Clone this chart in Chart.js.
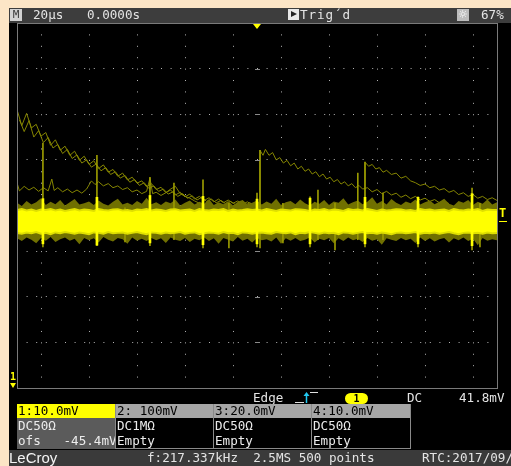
<!DOCTYPE html>
<html><head><meta charset="utf-8">
<script src="https://cdn.jsdelivr.net/npm/chart.js@4.4.0/dist/chart.umd.min.js"></script>
<style>
html,body{margin:0;padding:0;}
body{width:511px;height:466px;background:#fce5c6;position:relative;overflow:hidden;font-family:"DejaVu Sans Mono",monospace;font-size:12.6px;}
.bg{position:absolute;z-index:0;}
.t{position:absolute;z-index:3;color:#e4e4e4;white-space:pre;}
#c{position:absolute;left:0;top:0;z-index:1;}
.ch{position:absolute;z-index:3;top:404px;height:45px;box-sizing:border-box;border:1px solid #8a8a8a;border-top:none;background:#000;}
.ch .h{height:14px;line-height:14px;color:#000;background:#a6a6a6;padding-left:1px;white-space:pre;}
.ch .r{height:15px;line-height:15px;color:#ececec;padding-left:1px;white-space:pre;}
</style></head>
<body>
<div class="bg" style="left:9px;top:8px;width:502px;height:15px;background:#3d3d3d;"></div>
<div class="bg" style="left:9px;top:23px;width:502px;height:427px;background:#000;"></div>
<div class="bg" style="left:9px;top:450px;width:502px;height:16px;background:#3a3a3a;"></div>

<canvas id="c" width="511" height="466"></canvas>

<!-- top status bar -->
<div class="t" style="left:10px;top:9px;width:12px;height:12px;background:#d2d2d2;color:#3a3a3a;font-size:11px;line-height:12px;text-align:center;">M</div>
<div class="t" style="left:33px;top:7px;line-height:15px;">20µs</div>
<div class="t" style="left:87px;top:7px;line-height:15px;">0.0000s</div>
<div class="t" style="left:288px;top:9px;width:11px;height:11px;background:#e8e8e8;"></div>
<div class="t" style="left:291px;top:11px;width:0;height:0;border-top:3.5px solid transparent;border-bottom:3.5px solid transparent;border-left:6px solid #222;"></div>
<div class="t" style="left:300px;top:7px;line-height:15px;letter-spacing:0.9px;">Trig´d</div>
<div class="t" style="left:457px;top:9px;width:12px;height:12px;background:#bdbdbd;color:#fff;font-family:'DejaVu Sans';font-size:11px;line-height:12px;text-align:center;">☼</div>
<div class="t" style="left:481px;top:7px;line-height:15px;">67%</div>

<!-- markers -->
<div class="t" style="left:253px;top:24px;width:0;height:0;border-left:4px solid transparent;border-right:4px solid transparent;border-top:5px solid #ffff00;"></div>
<div class="t" style="left:499px;top:206px;color:#ffff00;font-weight:bold;font-size:12px;line-height:14px;">T</div>
<div class="t" style="left:499px;top:221px;width:8px;height:1px;background:#ffff00;"></div>
<div class="t" style="left:10px;top:371px;color:#ffff00;font-weight:bold;font-size:10px;line-height:11px;">1</div>
<div class="t" style="left:10px;top:383px;width:0;height:0;border-left:3px solid transparent;border-right:3px solid transparent;border-top:5px solid #ffff00;"></div>

<!-- trigger strip -->
<div class="t" style="left:253px;top:391px;line-height:14px;">Edge</div>
<svg class="t" style="left:294px;top:391px;" width="26" height="13">
  <polyline points="1,11.5 10,11.5" stroke="#e0e0e0" stroke-width="1" fill="none"/>
  <polyline points="16,1.5 24,1.5" stroke="#e0e0e0" stroke-width="1" fill="none"/>
  <line x1="12.5" y1="12" x2="12.5" y2="4" stroke="#22c8f0" stroke-width="1.5"/>
  <polygon points="9.5,5 15.5,5 12.5,1" fill="#22c8f0"/>
</svg>
<div class="t" style="left:345px;top:393px;width:23px;height:11px;background:#ffff00;border-radius:6px;color:#000;font-weight:bold;font-size:10px;line-height:11px;text-align:center;">1</div>
<div class="t" style="left:407px;top:391px;line-height:14px;">DC</div>
<div class="t" style="left:459px;top:391px;line-height:14px;">41.8mV</div>

<!-- channel boxes -->
<div class="ch" style="left:17px;width:98px;border:none;background:#5b5b5b;">
  <div class="h" style="background:#ffff00;">1:10.0mV</div>
  <div class="r">DC50Ω</div>
  <div class="r">ofs   -45.4mV</div>
</div>
<div class="ch" style="left:115px;width:99px;">
  <div class="h">2: 100mV</div>
  <div class="r">DC1MΩ</div>
  <div class="r">Empty</div>
</div>
<div class="ch" style="left:213px;width:99px;">
  <div class="h">3:20.0mV</div>
  <div class="r">DC50Ω</div>
  <div class="r">Empty</div>
</div>
<div class="ch" style="left:311px;width:100px;">
  <div class="h">4:10.0mV</div>
  <div class="r">DC50Ω</div>
  <div class="r">Empty</div>
</div>

<!-- footer -->
<div class="t" style="left:9px;top:450px;line-height:16px;font-family:'Liberation Sans',Arial,sans-serif;font-size:15px;color:#f4f4f4;">LeCroy</div>
<div class="t" style="left:147px;top:450px;line-height:16px;">f:217.337kHz  2.5MS 500 points</div>
<div class="t" style="left:422px;top:450px;line-height:16px;">RTC:2017/09/</div>

<script>
// ---- axis settings (20 µs/div, 10 mV/div, 10 x 8 divisions) ----
const timeRange = [-100, 100];
const timePerDiv = 20;
const voltRange = [-40, 40];
const voltPerDiv = 10;

// ---- sample times for the noise band (µs) ----
const time = [-100,-98,-96,-94,-92,-90,-88,-86,-84,-82,-80,-78,-76,-74,-72,-70,-68,-66,-64,-62,-60,-58,-56,-54,-52,-50,-48,-46,-44,-42,-40,-38,-36,-34,-32,-30,-28,-26,-24,-22,-20,-18,-16,-14,-12,-10,-8,-6,-4,-2,0,2,4,6,8,10,12,14,16,18,20,22,24,26,28,30,32,34,36,38,40,42,44,46,48,50,52,54,56,58,60,62,64,66,68,70,72,74,76,78,80,82,84,86,88,90,92,94,96,98,100];

// dense (bright) part of the noise band, mV
const coreHi = [-1.0,-0.8,-1.1,-0.9,-1.2,-0.9,-1.0,-0.8,-1.1,-0.9,
 -1.2,-1.0,-0.8,-1.1,-0.9,-1.0,-1.2,-0.8,-1.0,-1.1,
 -0.9,-0.8,-1.1,-1.0,-1.2,-0.9,-1.0,-0.8,-1.1,-0.9,
 -1.0,-1.2,-0.9,-0.8,-1.1,-1.0,-0.9,-1.2,-0.8,-1.0,
 -1.1,-0.9,-1.0,-0.8,-1.2,-0.9,-1.1,-1.0,-0.8,-1.0,
 -0.9,-1.1,-0.8,-1.0,-1.2,-0.9,-1.0,-1.1,-0.8,-0.9,
 -1.0,-1.2,-0.9,-1.0,-0.8,-1.1,-0.9,-1.0,-1.2,-0.8,
 -1.0,-0.9,-1.1,-0.8,-1.0,-1.2,-0.9,-1.1,-1.0,-0.8,
 -0.9,-1.1,-1.0,-1.2,-0.8,-1.0,-0.9,-1.1,-1.0,-0.9,
 -1.2,-0.8,-1.0,-1.1,-0.9,-1.0,-0.8,-1.2,-0.9,-1.0,
 -1.0];
const coreLo = [-6.0,-6.2,-5.9,-6.1,-5.8,-6.2,-6.0,-6.3,-5.9,-6.1,
 -5.8,-6.0,-6.2,-5.9,-6.1,-6.3,-5.9,-6.0,-6.2,-5.8,
 -6.1,-6.0,-5.9,-6.2,-6.0,-5.8,-6.1,-6.3,-5.9,-6.0,
 -6.2,-5.9,-6.1,-6.0,-5.8,-6.2,-6.0,-5.9,-6.3,-6.1,
 -5.9,-6.0,-6.2,-5.8,-6.1,-6.0,-6.3,-5.9,-6.0,-6.2,
 -6.0,-5.9,-6.1,-6.2,-5.8,-6.0,-6.1,-5.9,-6.3,-6.0,
 -6.1,-5.8,-6.0,-6.2,-5.9,-6.1,-6.0,-6.3,-5.9,-6.0,
 -6.2,-6.0,-5.8,-6.1,-6.0,-6.2,-5.9,-6.1,-6.3,-6.0,
 -5.9,-6.1,-6.0,-5.8,-6.2,-6.0,-6.1,-5.9,-6.2,-6.0,
 -5.8,-6.1,-6.3,-6.0,-5.9,-6.1,-6.0,-6.2,-5.9,-6.1,
 -6.0];
// sparse (dim) edges of the noise band, mV
const fringeHi = [0.6,-0.1,1.0,0.2,0.7,1.6,0.1,0.8,0.3,1.2,
 0.0,0.7,1.4,0.2,0.5,0.9,0.1,1.1,0.4,0.0,
 0.8,1.5,0.2,0.6,0.1,1.0,0.4,1.7,0.3,0.7,
 0.1,0.9,0.5,1.3,0.0,0.6,1.1,0.2,0.8,0.4,
 1.4,0.1,0.7,0.3,1.0,0.0,0.8,1.2,0.3,0.6,
 1.1,0.2,0.9,0.4,1.5,0.1,0.7,1.0,0.3,1.3,
 0.5,0.0,0.8,0.4,1.2,0.1,0.9,0.6,1.6,0.2,
 0.7,1.1,0.3,0.8,1.8,0.4,1.0,0.2,1.4,0.6,
 0.1,0.9,0.5,1.3,0.2,0.7,1.1,0.3,0.8,1.5,
 0.4,0.0,1.0,0.6,1.2,0.1,0.8,0.4,1.3,0.2,
 0.7];
const fringeLo = [-7.2,-7.8,-7.0,-7.5,-8.3,-7.1,-7.7,-6.9,-8.0,-7.4,
 -7.0,-7.7,-7.3,-8.5,-7.1,-7.6,-7.2,-8.1,-6.9,-7.5,
 -7.9,-7.1,-7.4,-8.4,-7.0,-7.7,-7.3,-7.8,-7.1,-7.6,
 -7.2,-8.2,-7.0,-7.5,-7.8,-7.1,-8.0,-7.3,-7.6,-7.0,
 -7.8,-7.2,-8.4,-7.1,-7.5,-7.9,-6.9,-7.7,-7.3,-8.1,
 -7.1,-7.6,-7.4,-7.9,-7.0,-8.4,-7.2,-7.7,-7.1,-7.8,
 -7.5,-7.0,-8.1,-7.3,-7.6,-7.1,-8.3,-7.2,-7.8,-7.0,
 -7.6,-7.3,-8.0,-7.1,-7.7,-7.4,-8.6,-7.2,-7.5,-7.8,
 -7.1,-7.6,-7.3,-8.2,-7.0,-7.8,-7.2,-7.9,-7.4,-7.1,
 -8.1,-7.2,-7.6,-7.0,-7.8,-7.3,-8.7,-7.1,-7.7,-7.4,
 -7.6];

// decaying captures (persistence), [µs, mV]
const traceA1 = [[-100,21.0],[-98,17.5],[-96,20.2],[-94,17.0],[-92,17.8],[-90,15.2],[-88,16.0],[-86,13.2],[-84,14.4],[-82,12.1],[-80,13.0],[-78,11.0],[-76,11.9],[-74,9.9],[-72,10.8],[-70,9.0],[-68,9.8],[-66,8.1],[-64,8.9],[-62,7.3],[-60,7.9],[-58,6.4],[-56,7.1],[-54,5.6],[-52,6.2],[-50,4.9],[-48,5.4],[-46,4.1],[-44,4.8],[-42,3.5],[-40,4.0],[-38,2.8],[-36,3.4],[-34,2.3],[-32,2.9],[-30,1.9],[-28,2.5],[-26,1.4],[-24,2.0],[-22,1.1],[-20,1.7],[-18,0.8],[-16,1.4],[-14,0.6],[-12,1.2],[-10,0.5],[-8,1.0],[-6,0.3],[-4,0.8],[-2,0.2],[0,0.5]];
const traceA2 = [[-99,18.8],[-97,16.2],[-95,18.6],[-93,15.0],[-91,16.4],[-89,13.8],[-87,14.9],[-85,12.6],[-83,13.4],[-81,11.4],[-79,12.3],[-77,10.3],[-75,11.1],[-73,9.3],[-71,10.0],[-69,8.4],[-67,9.1],[-65,7.6],[-63,8.3],[-61,6.8],[-59,7.4],[-57,6.0],[-55,6.6],[-53,5.1],[-51,5.7],[-49,4.4],[-47,5.0],[-45,3.7],[-43,4.3],[-41,3.1],[-39,3.6],[-37,2.5],[-35,3.0],[-33,2.0],[-31,2.6],[-29,1.6],[-27,2.1],[-25,1.2],[-23,1.8],[-21,0.9],[-19,1.4],[-17,0.6],[-15,1.1],[-13,0.4],[-11,0.9],[-9,0.2],[-7,0.7],[-5,0.1],[-3,0.6],[-1,0.0]];
const traceB = [[-100,5.0],[-99,3.2],[-97,4.2],[-95,3.4],[-93,4.0],[-91,3.1],[-89,3.9],[-87,3.2],[-85.5,5.8],[-84.5,3.3],[-83,3.9],[-81,3.0],[-79,3.6],[-77,2.8],[-75,3.4],[-73,2.7],[-71,3.6],[-69,5.4],[-67.5,4.6],[-66,5.2],[-64,4.3],[-62,4.8],[-60,3.9],[-58,4.3],[-56,3.5],[-54,3.9],[-52,3.0],[-50,3.4],[-48,2.6],[-46,3.1],[-44.6,6.0],[-43.5,2.6],[-42,2.9],[-40,2.2],[-38,2.8],[-36,3.6],[-34,4.2],[-32,2.6],[-30,2.0],[-28,1.6],[-26,1.0],[-24,0.5]];
const traceC = [[1.2,-1.0],[1.25,12.1],[2.5,11.0],[3.5,12.3],[5,11.0],[6.5,11.6],[8,10.0],[9.5,10.5],[11,9.3],[12.5,9.9],[14,8.7],[15.5,9.3],[17,8.0],[18.5,8.6],[20,7.5],[21.5,8.0],[23,6.9],[24.5,7.4],[26,6.3],[27.5,6.9],[29,5.8],[30.5,6.2],[32,5.2],[33.5,5.7],[35,4.7],[36.5,5.2],[38,4.3],[39.5,4.8],[41,3.9],[42.5,4.4],[44,3.6],[46,3.9],[48,3.0],[50,3.5],[52,2.6],[54,3.1],[56,2.3],[58,2.7],[60,1.8],[62,2.3],[64,1.5],[66,2.0],[68,1.2],[70,1.6],[72,0.9],[74,1.3],[76,0.6],[78,1.0],[80,0.4]];
const traceD = [[44.9,-1.0],[45,9.5],[46.5,8.6],[48,9.0],[49.5,8.0],[51,8.3],[52.5,7.3],[54,7.7],[56,6.8],[58,7.1],[60,6.0],[62,6.4],[64,5.4],[66,5.0],[68,4.4],[70,4.7],[72,3.9],[74,4.2],[76,3.4],[78,3.7],[80,2.9],[82,3.3],[84,2.4],[86,2.8],[88,2.0],[90,2.4],[92,1.6],[94,2.0],[96,1.3],[98,1.7],[100,1.1]];

// spikes
const spikeT  = [-89.2,-66.7,-44.6,-22.5,0,22.1,45,67.1,89.6];
const spikeHi = [1.5,1.8,2.2,2.0,1.4,1.6,1.8,1.8,2.6];
const spikeLo = [-8.4,-8.7,-8.2,-8.6,-8.4,-8.4,-8.4,-8.4,-8.8];
const dimSpikeT  = [-89.2,-66.7,-55,-44.6,-34.6,-22.5,-11.7,0,1.25,10.8,22.1,25.4,32.5,42,45,52.5,67.1,89.6,92.9];
const dimSpikeHi = [13.7,11.0,-0.5,6.2,4.9,5.6,0.5,2.7,12.1,0.5,1.9,3.4,0.5,7.1,9.5,2.7,1.9,3.8,0.5];
const dimSpikeLo = [-9.1,-8.8,-8.0,-8.8,-7.5,-9.3,-9.3,-9.1,-9.3,-8.2,-9.1,-7.5,-9.75,-7.5,-9.1,-7.5,-9.1,-9.75,-9.1];

const pts = (xs, ys) => xs.map((x, i) => ({x, y: ys[i]}));
const pairs = arr => arr.map(([x, y]) => ({x, y}));
const bars = (xs, lo, hi) => xs.map((x, i) => ({x, y: [lo[i], hi[i]]}));

const traceColor = '#858500';
const lineDs = (data, order) => ({type:'line', data, borderColor: traceColor, borderWidth: 1, pointRadius: 0, fill: false, order});

const scopeFrame = {
  id: 'scopeFrame',
  afterDraw(chart) {
    const {ctx, chartArea: a, scales: {x, y}} = chart;
    ctx.save();
    ctx.strokeStyle = '#7a7a7a';
    ctx.lineWidth = 1;
    ctx.strokeRect(Math.round(a.left) + 0.5, Math.round(a.top) + 0.5, Math.round(a.right - a.left), Math.round(a.bottom - a.top));
    const cx = Math.round(x.getPixelForValue(0));
    ctx.strokeStyle = '#8a8a8a';
    for (let v = voltRange[0] + voltPerDiv; v < voltRange[1]; v += voltPerDiv) {
      if (v === 0) continue;
      const py = Math.round(y.getPixelForValue(v)) + 0.5;
      ctx.beginPath(); ctx.moveTo(cx - 2, py); ctx.lineTo(cx + 3, py); ctx.stroke();
    }
    ctx.restore();
  }
};

new Chart(document.getElementById('c'), {
  type: 'line',
  data: {
    datasets: [
      lineDs(pairs(traceA1), 50),                 // 0
      lineDs(pairs(traceA2), 50),                 // 1
      lineDs(pairs(traceB), 50),                  // 2
      lineDs(pairs(traceC), 50),                  // 3
      lineDs(pairs(traceD), 50),                  // 4
      {type:'line', data: pts(time, fringeHi), borderWidth: 0, pointRadius: 0, fill: 6, backgroundColor: '#707000', order: 40}, // 5
      {type:'line', data: pts(time, fringeLo), borderWidth: 0, pointRadius: 0, fill: false, order: 39}, // 6
      {type:'bar', data: bars(dimSpikeT, dimSpikeLo, dimSpikeHi), backgroundColor: '#9a9a00', barThickness: 1, grouped: false, order: 30}, // 7
      {type:'line', data: pts(time, coreHi), borderColor: '#e0e000', borderWidth: 2, pointRadius: 0, fill: 9, backgroundColor: '#ffff00', order: 20}, // 8
      {type:'line', data: pts(time, coreLo), borderColor: '#e0e000', borderWidth: 2, pointRadius: 0, fill: false, order: 19}, // 9
      {type:'bar', data: bars(spikeT, spikeLo, spikeHi), backgroundColor: '#ffff00', barThickness: 2, grouped: false, order: 10} // 10
    ]
  },
  options: {
    responsive: false,
    animation: false,
    events: [],
    layout: {padding: {left: 17, top: 23, right: 14, bottom: 78}},
    plugins: {legend: {display: false}, tooltip: {enabled: false}},
    scales: {
      x: {type: 'linear', min: timeRange[0], max: timeRange[1], offset: false,
          ticks: {display: false, stepSize: timePerDiv},
          grid: {color: '#b4b4b4', lineWidth: 1, drawTicks: false},
          border: {display: false, dash: [1, 10.406]}},
      y: {type: 'linear', min: voltRange[0], max: voltRange[1],
          ticks: {display: false, stepSize: voltPerDiv},
          grid: {color: '#b4b4b4', lineWidth: 1, drawTicks: false},
          border: {display: false, dash: [1, 8.6]}}
    }
  },
  plugins: [scopeFrame]
});
</script>
</body></html>
